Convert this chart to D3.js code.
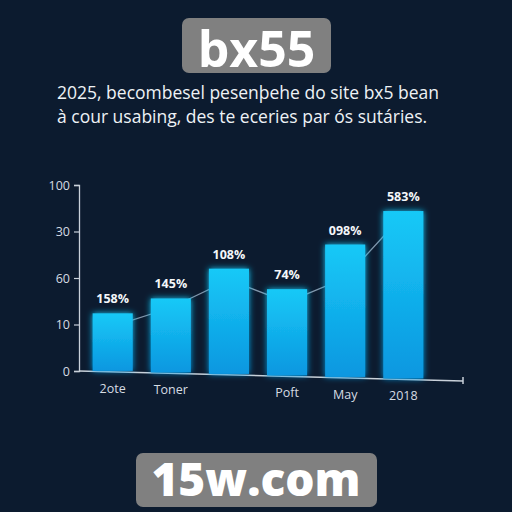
<!DOCTYPE html>
<html><head><meta charset="utf-8">
<script src="https://cdn.jsdelivr.net/npm/d3@7"></script>
<style>html,body{margin:0;padding:0;background:#0c1b2f;}svg{display:block;}</style>
</head><body>
<script>
// ---- data ----
const titleText = "bx55";
const subtitleLines = ["2025, becombesel pesenþehe do site bx5 bean", "à cour usabing, des te eceries par ós sutáries."];
const footerText = "15w.com";
const categories = ["c1","c2","c3","c4","c5","c6"];
const categoryLabels = ["2ote","Toner","","Poft","May","2018"];
const values = [31, 39, 55, 44, 68, 86];
const valueLabels = ["158%","145%","108%","74%","098%","583%"];
const trendValues = [24, 34, 49, 37, 50, 84];
const yTickValues = [0, 25, 50, 75, 100];
const yTickLabels = ["0","10","60","30","100"];

const W = 512, H = 512;
const svg = d3.select("body").append("svg").attr("width", W).attr("height", H);
svg.append("rect").attr("width", W).attr("height", H).attr("fill", "#0c1b2f");

const defs = svg.append("defs");
const grad = defs.append("linearGradient").attr("id","barGrad").attr("x1",0).attr("y1",0).attr("x2",0).attr("y2",1);
grad.append("stop").attr("offset","0%").attr("stop-color","#17c9f7");
grad.append("stop").attr("offset","100%").attr("stop-color","#0b97e0");
const glow = defs.append("filter").attr("id","glow").attr("x","-30%").attr("y","-30%").attr("width","160%").attr("height","160%");
glow.append("feGaussianBlur").attr("in","SourceGraphic").attr("stdDeviation",3).attr("result","b");
const fm = glow.append("feMerge");
fm.append("feMergeNode").attr("in","b");
fm.append("feMergeNode").attr("in","SourceGraphic");

// title
svg.append("rect").attr("x",182).attr("y",18).attr("width",149).attr("height",55).attr("rx",7).attr("fill","#808080");
svg.append("text").attr("x",256.5).attr("y",67).attr("text-anchor","middle")
  .attr("font-family","'Open Sans', sans-serif").attr("font-weight",700).attr("font-size",50)
  .attr("fill","#ffffff").text(titleText);

svg.selectAll("text.sub").data(subtitleLines).join("text").attr("class","sub")
  .attr("x",57).attr("y",(d,i)=>99+i*24)
  .attr("font-family","'Open Sans', sans-serif").attr("font-size",17.5)
  .attr("fill","#eef2f6").text(d=>d);

// scales
const x = d3.scaleBand().domain(categories).range([81, 435]).paddingInner(0.31).paddingOuter(0.2);
const y = d3.scaleLinear().domain([0,100]).range([371,185]);
const axisX0 = 79, axisX1 = 463, base0 = 371, base1 = 381;
const baseline = px => base0 + (px - axisX0) * (base1 - base0) / (axisX1 - axisX0);
const cx = d => x(d) + x.bandwidth()/2;

// y axis
const yAxis = d3.axisLeft(y).tickValues(yTickValues).tickSize(5).tickPadding(4)
  .tickFormat((d,i)=>yTickLabels[i]);
const gy = svg.append("g").attr("transform",`translate(${axisX0},0)`).call(yAxis);
gy.select(".domain").attr("stroke","#c9d1da").attr("stroke-width",1.3);
gy.selectAll(".tick line").attr("stroke","#c9d1da").attr("stroke-width",1.2);
gy.selectAll(".tick text").attr("fill","#d6dce3").attr("font-size",12.5)
  .attr("font-family","'Open Sans', sans-serif");

// x axis baseline (slightly slanted)
svg.append("line").attr("x1",axisX0).attr("y1",base0).attr("x2",axisX1).attr("y2",base1)
  .attr("stroke","#c9d1da").attr("stroke-width",1.5);
svg.append("line").attr("x1",axisX1).attr("y1",base1-4).attr("x2",axisX1).attr("y2",base1+3)
  .attr("stroke","#c9d1da").attr("stroke-width",1.5);

// trend line
const trend = categories.map((c,i)=>[cx(c), y(trendValues[i])]);
svg.append("path").attr("d", d3.line()(trend)).attr("fill","none")
  .attr("stroke","#8196ab").attr("stroke-width",1.3);

// bars
svg.selectAll("rect.bar").data(categories).join("rect").attr("class","bar")
  .attr("x", d=>x(d)).attr("width", x.bandwidth())
  .attr("y", (d,i)=>y(values[i]))
  .attr("height", (d,i)=>baseline(cx(d)) - 1 - y(values[i]))
  .attr("fill","url(#barGrad)").attr("filter","url(#glow)");

// value labels
svg.selectAll("text.val").data(categories).join("text").attr("class","val")
  .attr("x", d=>cx(d)).attr("y",(d,i)=>y(values[i]) - 10)
  .attr("text-anchor","middle").attr("font-family","'Open Sans', sans-serif")
  .attr("font-weight",700).attr("font-size",12.5).attr("fill","#f4f7fa")
  .text((d,i)=>valueLabels[i]);

// x labels
svg.selectAll("text.xl").data(categories).join("text").attr("class","xl")
  .attr("x", d=>cx(d)).attr("y", d=>baseline(cx(d)) + 21)
  .attr("text-anchor","middle").attr("font-family","'Open Sans', sans-serif")
  .attr("font-size",12.5).attr("fill","#d6dce3")
  .text((d,i)=>categoryLabels[i]);

// footer
svg.append("rect").attr("x",136).attr("y",453).attr("width",241).attr("height",54).attr("rx",7).attr("fill","#808080");
svg.append("text").attr("x",256).attr("y",496).attr("text-anchor","middle")
  .attr("font-family","'Open Sans', sans-serif").attr("font-weight",800).attr("font-size",46)
  .attr("fill","#ffffff").text(footerText);
</script>
</body></html>
